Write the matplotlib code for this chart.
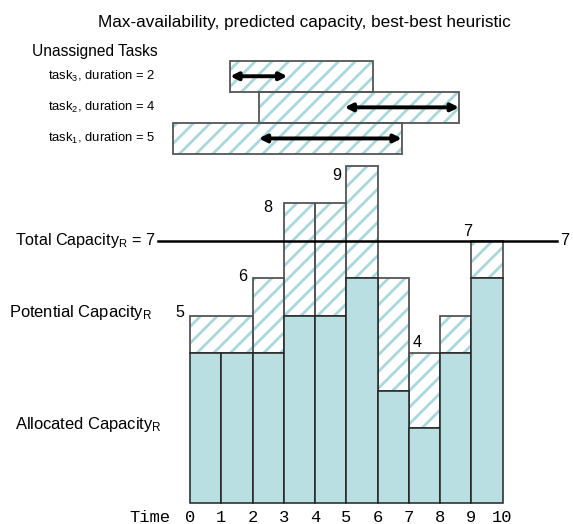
import matplotlib
matplotlib.use("Agg")
import matplotlib.pyplot as plt
import numpy as np

# ---------------- data ----------------
time_ticks = list(range(11))
slots = list(range(10))
allocated = [4, 4, 4, 5, 5, 6, 3, 2, 4, 6]
potential = [5, 5, 6, 8, 8, 9, 6, 4, 5, 7]
total_capacity = 7
label_slots = [0, 2, 3, 5, 7, 9]
# number of slots each hatched outline box spans (slots 0 and 1 share one box)
hatch_box_span = [2, 0, 1, 1, 1, 1, 1, 1, 1, 1]

task_names = ["task$_{\\mathrm{1}}$, duration = 5",
              "task$_{\\mathrm{2}}$, duration = 4",
              "task$_{\\mathrm{3}}$, duration = 2"]
task_durations = [5, 4, 2]
task_window_start = [0, 3, 2]
task_window_end = [8, 10, 7]
task_arrow_start = [3, 6, 2]

title = "Max-availability, predicted capacity, best-best heuristic"

# ---------------- style ----------------
plt.rcParams["font.family"] = ["Liberation Sans", "DejaVu Sans"]
plt.rcParams["mathtext.fontset"] = "custom"
plt.rcParams["mathtext.rm"] = "Liberation Sans"
plt.rcParams["mathtext.it"] = "Liberation Sans:italic"
plt.rcParams["hatch.linewidth"] = 2.0

solid = "#b9dfe2"
hatch_col = "#a9d8dc"
edge_dark = "#222222"
edge_grey = "#555555"
FS = 11.6
MONO_FS = 12.3

W, H = 573, 524
fig = plt.figure(figsize=(W / 100, H / 100), dpi=100)

# task axes (drawn first, underneath): 28.6 px per time unit, 31.1 px per row
ax2 = fig.add_axes([0, 0, 1, 1])
tx0, txu = 173, 28.6
row_base_top, ru = 154, 31.1
ax2.set_xlim(-tx0 / txu, (W - tx0) / txu)
ax2.set_ylim(-(H - row_base_top) / ru, row_base_top / ru)
ax2.axis("off")

rows = np.arange(len(task_names))
ws = np.array(task_window_start)
we = np.array(task_window_end)
ax2.barh(rows, we - ws, left=ws, height=1, align="edge", facecolor="white",
         edgecolor=hatch_col, hatch="//", linewidth=0, zorder=2)
ax2.barh(rows, we - ws, left=ws, height=1, align="edge", fill=False,
         edgecolor=edge_grey, linewidth=1.3, zorder=3)
for r in rows:
    a0 = task_arrow_start[r]
    a1 = a0 + task_durations[r]
    ax2.annotate("", xy=(a1, r + 0.5), xytext=(a0, r + 0.5),
                 arrowprops=dict(arrowstyle="<|-|>", color="black", lw=2.8,
                                 mutation_scale=11, shrinkA=0, shrinkB=0),
                 zorder=5)
    ax2.text(-0.63, r + 0.5, task_names[r], ha="right", va="center", fontsize=9.4)

ax2.text(-4.93, 3.31, "Unassigned Tasks", ha="left", va="center", fontsize=11.2)

# main axes: 31.25 px per time unit, 37.5 px per capacity unit
ax = fig.add_axes([0, 0, 1, 1])
ax.set_facecolor("none")
x0_px, xu = 190, 31.25
base_px, yu = 503.3, 37.5
ax.set_xlim(-x0_px / xu, (W - x0_px) / xu)
ax.set_ylim(-(H - base_px) / yu, base_px / yu)
for s in ax.spines.values():
    s.set_visible(False)
ax.spines["bottom"].set_position(("data", 0))
ax.set_yticks([])
ax.set_xticks(time_ticks)
ax.set_xticklabels([str(t) for t in time_ticks], family="Liberation Mono", fontsize=MONO_FS)
ax.tick_params(axis="x", length=0, pad=4.6)

alloc = np.array(allocated)
pot = np.array(potential)
extra = pot - alloc

# hatched potential parts
ax.bar(slots, extra, bottom=alloc, width=1, align="edge", facecolor="white",
       edgecolor=hatch_col, hatch="//", linewidth=0, zorder=2)
span = np.array(hatch_box_span)
keep = span > 0
ax.bar(np.array(slots)[keep], extra[keep], bottom=alloc[keep], width=span[keep],
       align="edge", fill=False, edgecolor=edge_grey, linewidth=1.3, zorder=3)
# allocated solid parts
ax.bar(slots, alloc, width=1, align="edge", color=solid,
       edgecolor=edge_dark, linewidth=1.1, zorder=3)

# total capacity line
ax.plot([-1.02, 11.74], [total_capacity, total_capacity], color="black", lw=1.8, zorder=4)
ax.text(-1.1, total_capacity, "Total Capacity$_{\\mathrm{R}}$ = %d" % total_capacity,
        ha="right", va="center", fontsize=FS)
ax.text(11.85, total_capacity, "%d" % total_capacity, ha="left", va="center", fontsize=FS)

ax.text(-1.22, 5.08, "Potential Capacity$_{\\mathrm{R}}$", ha="right", va="center", fontsize=11.9)
ax.text(-0.9, 2.09, "Allocated Capacity$_{\\mathrm{R}}$", ha="right", va="center", fontsize=11.9)
ax.annotate("Time", xy=(-0.64, 0), xytext=(0, -4.6), textcoords="offset points",
            family="Liberation Mono", ha="right", va="top", fontsize=MONO_FS)

label_dx = {0: -0.32, 2: -0.31, 3: -0.51, 5: -0.3, 7: 0.28, 9: -0.1}
label_dy = {0: 0.08, 2: 0.06, 3: -0.1, 5: -0.27, 7: 0.28, 9: 0.25}
for i in label_slots:
    ax.text(i + label_dx[i], potential[i] + label_dy[i], str(potential[i]),
            ha="center", va="center", fontsize=FS, zorder=5)

fig.text(304 / W, 1 - 22 / H, title, ha="center", va="center", fontsize=12.3)

fig.savefig("out.png", dpi=100)
